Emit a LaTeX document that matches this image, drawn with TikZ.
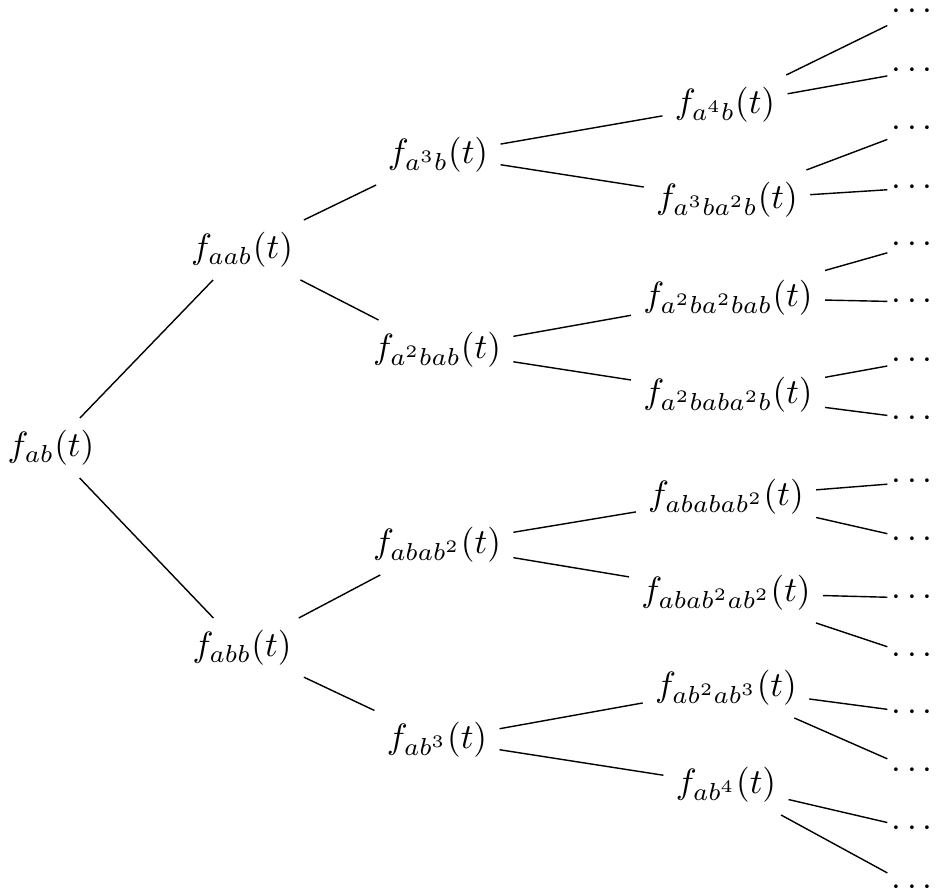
\documentclass[tikz,border=0pt]{standalone}
\usepackage{amsmath}
\usepackage{tikz}

\begin{document}
\begin{tikzpicture}[dts/.style={inner xsep=1pt,minimum height=12pt}]
\useasboundingbox (0,0) rectangle (9.41,8.9);
\node (ab) at (0.51,4.42) {$f_{ab}(t)$};
\node (aab) at (2.42,6.40) {$f_{aab}(t)$};
\node (abb) at (2.42,2.42) {$f_{abb}(t)$};
\node (a3b) at (4.38,7.35) {$f_{a^3b}(t)$};
\node (a2bab) at (4.37,5.40) {$f_{a^2bab}(t)$};
\node (abab2) at (4.37,3.45) {$f_{abab^2}(t)$};
\node (ab3) at (4.37,1.50) {$f_{ab^3}(t)$};
\node (a4b) at (7.25,7.85) {$f_{a^4b}(t)$};
\node (a3ba2b) at (7.27,6.90) {$f_{a^3ba^2b}(t)$};
\node (a2ba2bab) at (7.28,5.92) {$f_{a^2ba^2bab}(t)$};
\node (a2baba2b) at (7.28,4.95) {$f_{a^2baba^2b}(t)$};
\node (ababab2) at (7.26,3.93) {$f_{ababab^2}(t)$};
\node (abab2ab2) at (7.26,2.97) {$f_{abab^2ab^2}(t)$};
\node (ab2ab3) at (7.26,2.02) {$f_{ab^2ab^3}(t)$};
\node (ab4) at (7.26,1.05) {$f_{ab^4}(t)$};
% loose ends
\node[dts] (d1) at (9.15,8.78) {$\cdots$};
\node[dts] (d2) at (9.15,8.19) {$\cdots$};
\node[dts] (d3) at (9.15,7.61) {$\cdots$};
\node[dts] (d4) at (9.15,7.02) {$\cdots$};
\node[dts] (d5) at (9.15,6.45) {$\cdots$};
\node[dts] (d6) at (9.15,5.88) {$\cdots$};
\node[dts] (d7) at (9.15,5.29) {$\cdots$};
\node[dts] (d8) at (9.15,4.71) {$\cdots$};
\node[dts] (d9) at (9.15,4.08) {$\cdots$};
\node[dts] (d10) at (9.15,3.50) {$\cdots$};
\node[dts] (d11) at (9.15,2.92) {$\cdots$};
\node[dts] (d12) at (9.15,2.34) {$\cdots$};
\node[dts] (d13) at (9.15,1.77) {$\cdots$};
\node[dts] (d14) at (9.15,1.19) {$\cdots$};
\node[dts] (d15) at (9.15,0.61) {$\cdots$};
\node[dts] (d16) at (9.15,0.02) {$\cdots$};
\draw (ab) -- (aab);
\draw (ab) -- (abb);
\draw (aab) -- (a3b);
\draw (aab) -- (a2bab);
\draw (abb) -- (abab2);
\draw (abb) -- (ab3);
\draw (a3b) -- (a4b);
\draw (a3b) -- (a3ba2b);
\draw (a2bab) -- (a2ba2bab);
\draw (a2bab) -- (a2baba2b);
\draw (abab2) -- (ababab2);
\draw (abab2) -- (abab2ab2);
\draw (ab3) -- (ab2ab3);
\draw (ab3) -- (ab4);
\draw (a4b) -- (d1);
\draw (a4b) -- (d2);
\draw (a3ba2b) -- (d3);
\draw (a3ba2b) -- (d4);
\draw (a2ba2bab) -- (d5);
\draw (a2ba2bab) -- (d6);
\draw (a2baba2b) -- (d7);
\draw (a2baba2b) -- (d8);
\draw (ababab2) -- (d9);
\draw (ababab2) -- (d10);
\draw (abab2ab2) -- (d11);
\draw (abab2ab2) -- (d12);
\draw (ab2ab3) -- (d13);
\draw (ab2ab3) -- (d14);
\draw (ab4) -- (d15);
\draw (ab4) -- (d16);
\end{tikzpicture}
\end{document}
